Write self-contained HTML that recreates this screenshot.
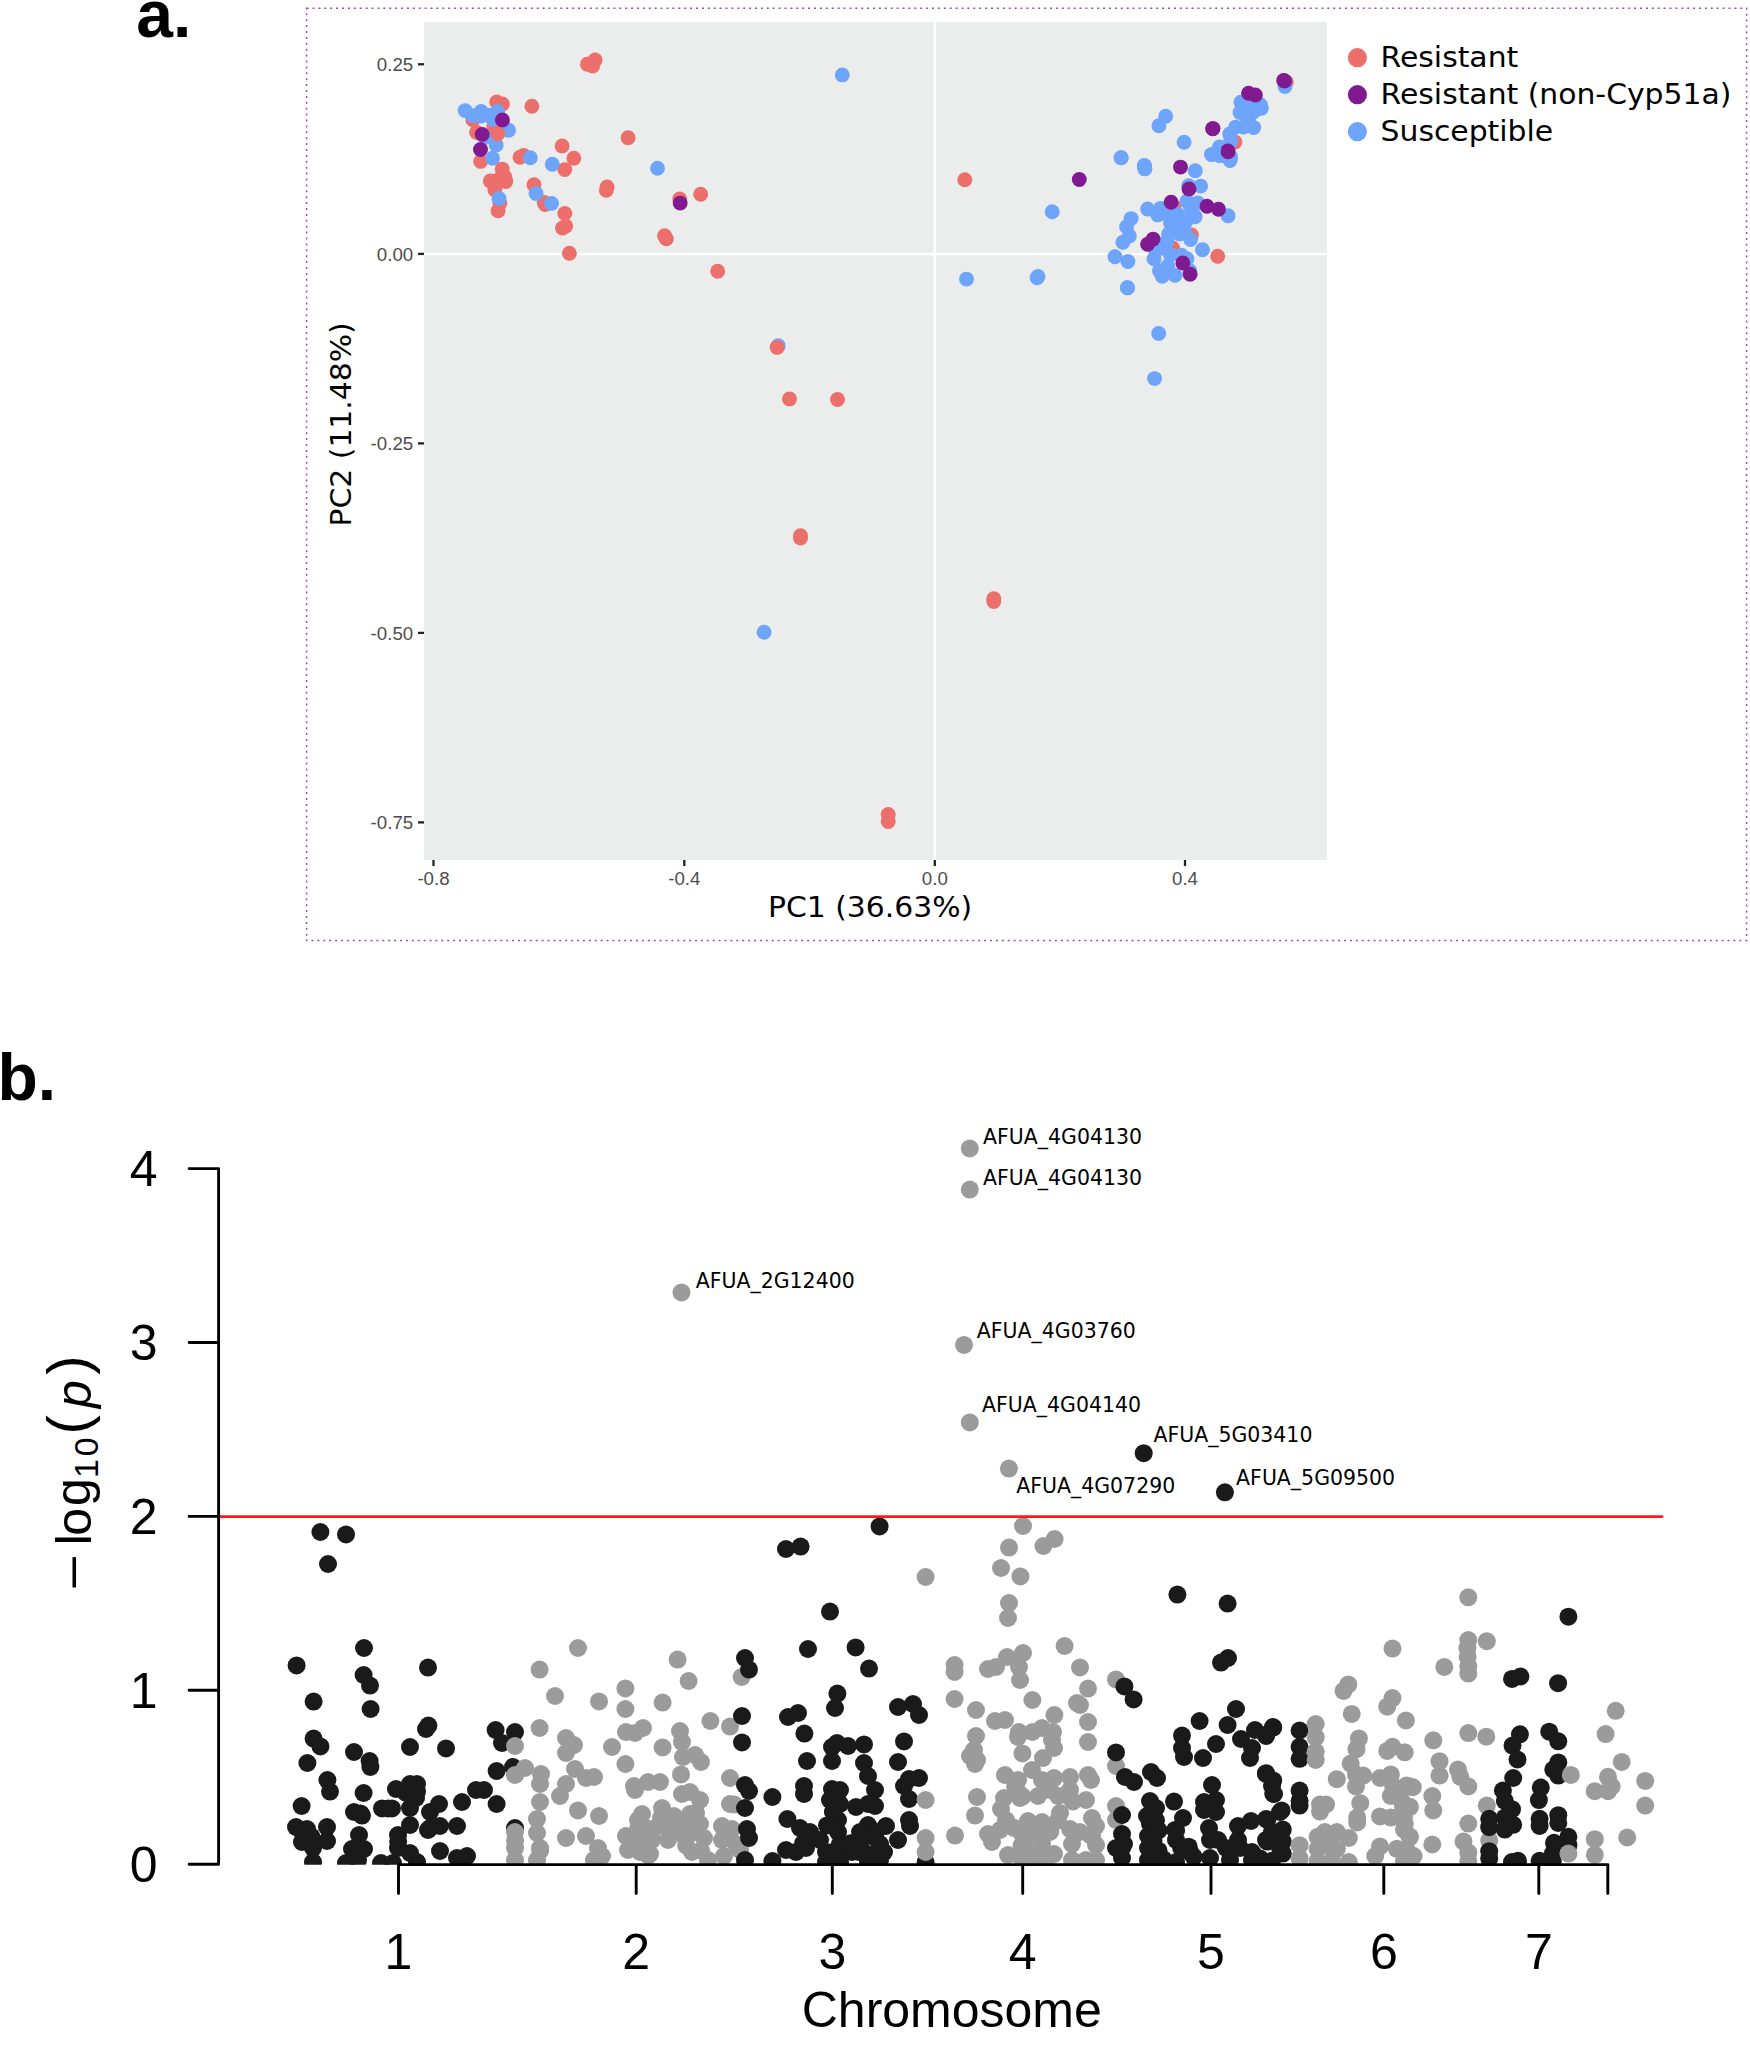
<!DOCTYPE html>
<html lang="en"><head><meta charset="utf-8"><title>Figure: PCA and Manhattan plot</title>
<style>html,body{margin:0;padding:0;background:#fff}svg{display:block}.tk{font-family:"Liberation Sans",sans-serif;font-size:18.7px;fill:#4d4d4d}.dv{font-family:"DejaVu Sans","Liberation Sans",sans-serif;fill:#000}.ar{font-family:"Liberation Sans",sans-serif;fill:#000}</style></head><body>
<svg width="1750" height="2065" viewBox="0 0 1750 2065">
<rect width="1750" height="2065" fill="#fff"/>
<g id="panel-a">
<text class="ar" x="136.2" y="37.2" font-size="66" font-weight="bold">a.</text>
<rect x="306.6" y="8.2" width="1440" height="932.4" fill="none" stroke="#a347b5" stroke-width="1.5" stroke-dasharray="2 3.9"/>
<rect x="424" y="22" width="903" height="838" fill="#ebecec"/>
<line x1="424" x2="1327" y1="254.2" y2="254.2" stroke="#fff" stroke-width="2.3"/>
<line x1="934.8" x2="934.8" y1="22" y2="860" stroke="#fff" stroke-width="2.3"/>
<g>
<circle cx="496.7" cy="101.9" r="7.45" fill="#ec6f6b"/>
<circle cx="502.4" cy="104.0" r="7.45" fill="#ec6f6b"/>
<circle cx="531.9" cy="106.2" r="7.45" fill="#ec6f6b"/>
<circle cx="472.9" cy="119.8" r="7.45" fill="#ec6f6b"/>
<circle cx="476.6" cy="132.3" r="7.45" fill="#ec6f6b"/>
<circle cx="493.9" cy="126.2" r="7.45" fill="#ec6f6b"/>
<circle cx="480.7" cy="161.4" r="7.45" fill="#ec6f6b"/>
<circle cx="520.0" cy="157.3" r="7.45" fill="#ec6f6b"/>
<circle cx="523.7" cy="155.4" r="7.45" fill="#ec6f6b"/>
<circle cx="562.1" cy="146.0" r="7.45" fill="#ec6f6b"/>
<circle cx="573.8" cy="158.2" r="7.45" fill="#ec6f6b"/>
<circle cx="564.8" cy="169.6" r="7.45" fill="#ec6f6b"/>
<circle cx="502.2" cy="169.1" r="7.45" fill="#ec6f6b"/>
<circle cx="490.3" cy="181.0" r="7.45" fill="#ec6f6b"/>
<circle cx="498.5" cy="179.7" r="7.45" fill="#ec6f6b"/>
<circle cx="505.8" cy="181.5" r="7.45" fill="#ec6f6b"/>
<circle cx="504.9" cy="176.9" r="7.45" fill="#ec6f6b"/>
<circle cx="494.9" cy="189.7" r="7.45" fill="#ec6f6b"/>
<circle cx="534.0" cy="184.7" r="7.45" fill="#ec6f6b"/>
<circle cx="544.2" cy="202.5" r="7.45" fill="#ec6f6b"/>
<circle cx="545.1" cy="204.5" r="7.45" fill="#ec6f6b"/>
<circle cx="499.9" cy="203.0" r="7.45" fill="#ec6f6b"/>
<circle cx="498.1" cy="210.7" r="7.45" fill="#ec6f6b"/>
<circle cx="564.8" cy="213.5" r="7.45" fill="#ec6f6b"/>
<circle cx="562.5" cy="228.1" r="7.45" fill="#ec6f6b"/>
<circle cx="565.7" cy="226.1" r="7.45" fill="#ec6f6b"/>
<circle cx="465.1" cy="110.6" r="7.45" fill="#6fa4fb"/>
<circle cx="472.9" cy="115.7" r="7.45" fill="#6fa4fb"/>
<circle cx="481.1" cy="111.5" r="7.45" fill="#6fa4fb"/>
<circle cx="481.1" cy="116.1" r="7.45" fill="#6fa4fb"/>
<circle cx="488.9" cy="115.2" r="7.45" fill="#6fa4fb"/>
<circle cx="497.6" cy="111.5" r="7.45" fill="#6fa4fb"/>
<circle cx="493.0" cy="119.3" r="7.45" fill="#6fa4fb"/>
<circle cx="508.6" cy="130.3" r="7.45" fill="#6fa4fb"/>
<circle cx="496.2" cy="144.9" r="7.45" fill="#6fa4fb"/>
<circle cx="486.2" cy="137.1" r="7.45" fill="#6fa4fb"/>
<circle cx="492.6" cy="158.2" r="7.45" fill="#6fa4fb"/>
<circle cx="530.3" cy="157.7" r="7.45" fill="#6fa4fb"/>
<circle cx="552.3" cy="164.3" r="7.45" fill="#6fa4fb"/>
<circle cx="499.0" cy="198.4" r="7.45" fill="#6fa4fb"/>
<circle cx="536.0" cy="193.4" r="7.45" fill="#6fa4fb"/>
<circle cx="551.5" cy="203.4" r="7.45" fill="#6fa4fb"/>
<circle cx="497.8" cy="133.7" r="7.45" fill="#ec6f6b"/>
<circle cx="502.4" cy="120.0" r="7.45" fill="#7f1a90"/>
<circle cx="482.2" cy="134.4" r="7.45" fill="#7f1a90"/>
<circle cx="480.5" cy="149.5" r="7.45" fill="#7f1a90"/>
<circle cx="587.4" cy="64.3" r="7.45" fill="#ec6f6b"/>
<circle cx="595.1" cy="60.0" r="7.45" fill="#ec6f6b"/>
<circle cx="592.6" cy="66.0" r="7.45" fill="#ec6f6b"/>
<circle cx="628.1" cy="137.7" r="7.45" fill="#ec6f6b"/>
<circle cx="607.1" cy="186.9" r="7.45" fill="#ec6f6b"/>
<circle cx="606.3" cy="190.3" r="7.45" fill="#ec6f6b"/>
<circle cx="657.5" cy="168.2" r="7.45" fill="#6fa4fb"/>
<circle cx="679.7" cy="198.9" r="7.45" fill="#ec6f6b"/>
<circle cx="680.2" cy="203.1" r="7.45" fill="#7f1a90"/>
<circle cx="700.7" cy="194.2" r="7.45" fill="#ec6f6b"/>
<circle cx="664.6" cy="235.7" r="7.45" fill="#ec6f6b"/>
<circle cx="666.3" cy="238.8" r="7.45" fill="#ec6f6b"/>
<circle cx="569.4" cy="253.2" r="7.45" fill="#ec6f6b"/>
<circle cx="717.7" cy="271.2" r="7.45" fill="#ec6f6b"/>
<circle cx="842.3" cy="74.9" r="7.45" fill="#6fa4fb"/>
<circle cx="1286.3" cy="82.1" r="7.45" fill="#ec6f6b"/>
<circle cx="1285.0" cy="86.4" r="7.45" fill="#6fa4fb"/>
<circle cx="1283.7" cy="80.4" r="7.45" fill="#7f1a90"/>
<circle cx="1284.7" cy="81.0" r="7.45" fill="#7f1a90"/>
<circle cx="1234.9" cy="142.1" r="7.45" fill="#ec6f6b"/>
<circle cx="1240.9" cy="102.3" r="7.45" fill="#6fa4fb"/>
<circle cx="1250.3" cy="103.1" r="7.45" fill="#6fa4fb"/>
<circle cx="1260.6" cy="104.9" r="7.45" fill="#6fa4fb"/>
<circle cx="1261.4" cy="108.3" r="7.45" fill="#6fa4fb"/>
<circle cx="1240.0" cy="112.6" r="7.45" fill="#6fa4fb"/>
<circle cx="1246.9" cy="110.0" r="7.45" fill="#6fa4fb"/>
<circle cx="1253.7" cy="111.7" r="7.45" fill="#6fa4fb"/>
<circle cx="1248.6" cy="118.6" r="7.45" fill="#6fa4fb"/>
<circle cx="1235.7" cy="127.1" r="7.45" fill="#6fa4fb"/>
<circle cx="1243.4" cy="127.1" r="7.45" fill="#6fa4fb"/>
<circle cx="1253.7" cy="127.6" r="7.45" fill="#6fa4fb"/>
<circle cx="1229.7" cy="134.0" r="7.45" fill="#6fa4fb"/>
<circle cx="1230.6" cy="140.9" r="7.45" fill="#6fa4fb"/>
<circle cx="1219.4" cy="146.9" r="7.45" fill="#6fa4fb"/>
<circle cx="1211.7" cy="154.6" r="7.45" fill="#6fa4fb"/>
<circle cx="1220.3" cy="155.4" r="7.45" fill="#6fa4fb"/>
<circle cx="1230.6" cy="157.1" r="7.45" fill="#6fa4fb"/>
<circle cx="1230.1" cy="160.6" r="7.45" fill="#6fa4fb"/>
<circle cx="1248.6" cy="93.3" r="7.45" fill="#7f1a90"/>
<circle cx="1255.4" cy="95.0" r="7.45" fill="#7f1a90"/>
<circle cx="1227.8" cy="151.0" r="7.45" fill="#7f1a90"/>
<circle cx="1212.8" cy="128.7" r="7.45" fill="#7f1a90"/>
<circle cx="1191.5" cy="235.0" r="7.45" fill="#ec6f6b"/>
<circle cx="1172.7" cy="248.0" r="7.45" fill="#ec6f6b"/>
<circle cx="1174.1" cy="206.7" r="7.45" fill="#ec6f6b"/>
<circle cx="1121.1" cy="157.8" r="7.45" fill="#6fa4fb"/>
<circle cx="1144.6" cy="166.0" r="7.45" fill="#6fa4fb"/>
<circle cx="1144.9" cy="168.3" r="7.45" fill="#6fa4fb"/>
<circle cx="1195.3" cy="170.8" r="7.45" fill="#6fa4fb"/>
<circle cx="1200.6" cy="186.1" r="7.45" fill="#6fa4fb"/>
<circle cx="1188.7" cy="185.7" r="7.45" fill="#6fa4fb"/>
<circle cx="1211.6" cy="154.6" r="7.45" fill="#6fa4fb"/>
<circle cx="1219.8" cy="155.5" r="7.45" fill="#6fa4fb"/>
<circle cx="1229.9" cy="159.1" r="7.45" fill="#6fa4fb"/>
<circle cx="1228.1" cy="215.8" r="7.45" fill="#6fa4fb"/>
<circle cx="1147.6" cy="209.0" r="7.45" fill="#6fa4fb"/>
<circle cx="1160.4" cy="208.5" r="7.45" fill="#6fa4fb"/>
<circle cx="1157.7" cy="214.9" r="7.45" fill="#6fa4fb"/>
<circle cx="1167.7" cy="214.0" r="7.45" fill="#6fa4fb"/>
<circle cx="1176.9" cy="214.0" r="7.45" fill="#6fa4fb"/>
<circle cx="1186.9" cy="201.2" r="7.45" fill="#6fa4fb"/>
<circle cx="1197.9" cy="203.0" r="7.45" fill="#6fa4fb"/>
<circle cx="1190.6" cy="209.4" r="7.45" fill="#6fa4fb"/>
<circle cx="1195.1" cy="216.7" r="7.45" fill="#6fa4fb"/>
<circle cx="1186.0" cy="221.3" r="7.45" fill="#6fa4fb"/>
<circle cx="1170.5" cy="223.1" r="7.45" fill="#6fa4fb"/>
<circle cx="1177.8" cy="227.7" r="7.45" fill="#6fa4fb"/>
<circle cx="1184.2" cy="230.5" r="7.45" fill="#6fa4fb"/>
<circle cx="1168.6" cy="234.1" r="7.45" fill="#6fa4fb"/>
<circle cx="1166.8" cy="241.4" r="7.45" fill="#6fa4fb"/>
<circle cx="1179.6" cy="234.1" r="7.45" fill="#6fa4fb"/>
<circle cx="1190.6" cy="239.6" r="7.45" fill="#6fa4fb"/>
<circle cx="1165.0" cy="248.7" r="7.45" fill="#6fa4fb"/>
<circle cx="1155.8" cy="250.6" r="7.45" fill="#6fa4fb"/>
<circle cx="1154.0" cy="258.8" r="7.45" fill="#6fa4fb"/>
<circle cx="1170.5" cy="255.1" r="7.45" fill="#6fa4fb"/>
<circle cx="1181.4" cy="255.1" r="7.45" fill="#6fa4fb"/>
<circle cx="1186.9" cy="258.8" r="7.45" fill="#6fa4fb"/>
<circle cx="1167.7" cy="266.1" r="7.45" fill="#6fa4fb"/>
<circle cx="1159.5" cy="270.7" r="7.45" fill="#6fa4fb"/>
<circle cx="1162.2" cy="276.2" r="7.45" fill="#6fa4fb"/>
<circle cx="1175.0" cy="275.3" r="7.45" fill="#6fa4fb"/>
<circle cx="1189.7" cy="270.7" r="7.45" fill="#6fa4fb"/>
<circle cx="1131.1" cy="218.6" r="7.45" fill="#6fa4fb"/>
<circle cx="1126.6" cy="226.8" r="7.45" fill="#6fa4fb"/>
<circle cx="1129.3" cy="235.9" r="7.45" fill="#6fa4fb"/>
<circle cx="1122.9" cy="242.3" r="7.45" fill="#6fa4fb"/>
<circle cx="1115.0" cy="256.8" r="7.45" fill="#6fa4fb"/>
<circle cx="1127.9" cy="261.5" r="7.45" fill="#6fa4fb"/>
<circle cx="1202.5" cy="249.7" r="7.45" fill="#6fa4fb"/>
<circle cx="1127.5" cy="287.8" r="7.45" fill="#6fa4fb"/>
<circle cx="1217.7" cy="256.3" r="7.45" fill="#ec6f6b"/>
<circle cx="1228.1" cy="151.8" r="7.45" fill="#7f1a90"/>
<circle cx="1180.5" cy="167.1" r="7.45" fill="#7f1a90"/>
<circle cx="1189.0" cy="188.9" r="7.45" fill="#7f1a90"/>
<circle cx="1171.1" cy="202.3" r="7.45" fill="#7f1a90"/>
<circle cx="1207.0" cy="206.2" r="7.45" fill="#7f1a90"/>
<circle cx="1218.5" cy="209.2" r="7.45" fill="#7f1a90"/>
<circle cx="1153.1" cy="239.1" r="7.45" fill="#7f1a90"/>
<circle cx="1147.6" cy="244.2" r="7.45" fill="#7f1a90"/>
<circle cx="1182.8" cy="262.9" r="7.45" fill="#7f1a90"/>
<circle cx="1190.1" cy="274.3" r="7.45" fill="#7f1a90"/>
<circle cx="964.8" cy="179.7" r="7.45" fill="#ec6f6b"/>
<circle cx="1079.3" cy="179.5" r="7.45" fill="#7f1a90"/>
<circle cx="1052.2" cy="211.7" r="7.45" fill="#6fa4fb"/>
<circle cx="966.5" cy="279.1" r="7.45" fill="#6fa4fb"/>
<circle cx="1037.1" cy="277.7" r="7.45" fill="#6fa4fb"/>
<circle cx="1038.0" cy="276.5" r="7.45" fill="#6fa4fb"/>
<circle cx="1121.1" cy="157.7" r="7.45" fill="#6fa4fb"/>
<circle cx="1144.3" cy="165.4" r="7.45" fill="#6fa4fb"/>
<circle cx="1144.8" cy="168.9" r="7.45" fill="#6fa4fb"/>
<circle cx="1165.7" cy="116.2" r="7.45" fill="#6fa4fb"/>
<circle cx="1158.9" cy="125.7" r="7.45" fill="#6fa4fb"/>
<circle cx="1212.9" cy="128.6" r="7.45" fill="#7f1a90"/>
<circle cx="1184.1" cy="142.3" r="7.45" fill="#6fa4fb"/>
<circle cx="1127.5" cy="287.7" r="7.45" fill="#6fa4fb"/>
<circle cx="778.2" cy="345.7" r="7.45" fill="#6fa4fb"/>
<circle cx="777.1" cy="347.4" r="7.45" fill="#ec6f6b"/>
<circle cx="789.5" cy="398.9" r="7.45" fill="#ec6f6b"/>
<circle cx="837.5" cy="399.5" r="7.45" fill="#ec6f6b"/>
<circle cx="800.5" cy="535.7" r="7.45" fill="#ec6f6b"/>
<circle cx="800.5" cy="538.1" r="7.45" fill="#ec6f6b"/>
<circle cx="993.8" cy="598.7" r="7.45" fill="#ec6f6b"/>
<circle cx="993.8" cy="601.5" r="7.45" fill="#ec6f6b"/>
<circle cx="764.1" cy="632.3" r="7.45" fill="#6fa4fb"/>
<circle cx="888.2" cy="814.4" r="7.45" fill="#ec6f6b"/>
<circle cx="888.2" cy="821.6" r="7.45" fill="#ec6f6b"/>
<circle cx="1158.7" cy="333.4" r="7.45" fill="#6fa4fb"/>
<circle cx="1154.6" cy="378.6" r="7.45" fill="#6fa4fb"/>
</g>
<line x1="418" x2="424" y1="64.3" y2="64.3" stroke="#222" stroke-width="2.3"/>
<text class="tk" x="413.2" y="71.1" text-anchor="end">0.25</text>
<line x1="418" x2="424" y1="253.9" y2="253.9" stroke="#222" stroke-width="2.3"/>
<text class="tk" x="413.2" y="260.7" text-anchor="end">0.00</text>
<line x1="418" x2="424" y1="443.4" y2="443.4" stroke="#222" stroke-width="2.3"/>
<text class="tk" x="413.2" y="450.2" text-anchor="end">-0.25</text>
<line x1="418" x2="424" y1="632.9" y2="632.9" stroke="#222" stroke-width="2.3"/>
<text class="tk" x="413.2" y="639.7" text-anchor="end">-0.50</text>
<line x1="418" x2="424" y1="822.4" y2="822.4" stroke="#222" stroke-width="2.3"/>
<text class="tk" x="413.2" y="829.2" text-anchor="end">-0.75</text>
<line x1="433.5" x2="433.5" y1="860" y2="866" stroke="#222" stroke-width="2.3"/>
<text class="tk" x="433.5" y="884.9" text-anchor="middle">-0.8</text>
<line x1="684.3" x2="684.3" y1="860" y2="866" stroke="#222" stroke-width="2.3"/>
<text class="tk" x="684.3" y="884.9" text-anchor="middle">-0.4</text>
<line x1="934.8" x2="934.8" y1="860" y2="866" stroke="#222" stroke-width="2.3"/>
<text class="tk" x="934.8" y="884.9" text-anchor="middle">0.0</text>
<line x1="1185.0" x2="1185.0" y1="860" y2="866" stroke="#222" stroke-width="2.3"/>
<text class="tk" x="1185.0" y="884.9" text-anchor="middle">0.4</text>
<text class="dv" transform="translate(870,917.3) scale(1.054,1)" font-size="28.3" text-anchor="middle">PC1 (36.63%)</text>
<text class="dv" transform="translate(350.6,424.4) rotate(-90) scale(1.054,1)" font-size="28.3" text-anchor="middle">PC2 (11.48%)</text>
<circle cx="1357.4" cy="57.7" r="9.6" fill="#ec6f6b"/>
<text class="dv" transform="translate(1380.6,67.3) scale(1.054,1)" font-size="28.3">Resistant</text>
<circle cx="1357.4" cy="94.7" r="9.6" fill="#7f1a90"/>
<text class="dv" transform="translate(1380.6,104.2) scale(1.054,1)" font-size="28.3">Resistant (non-Cyp51a)</text>
<circle cx="1357.4" cy="131.7" r="9.6" fill="#6fa4fb"/>
<text class="dv" transform="translate(1380.6,141.2) scale(1.054,1)" font-size="28.3">Susceptible</text>
</g>
<g id="panel-b">
<text class="ar" x="-2.5" y="1100" font-size="66" font-weight="bold">b.</text>
<defs><clipPath id="cb"><rect x="218" y="1000" width="1500" height="864.8"/></clipPath></defs>
<g clip-path="url(#cb)">
<circle cx="320.4" cy="1532.0" r="9.0" fill="#1a1a1a"/>
<circle cx="346.0" cy="1534.4" r="9.0" fill="#1a1a1a"/>
<circle cx="328.0" cy="1564.0" r="9.0" fill="#1a1a1a"/>
<circle cx="364.0" cy="1648.0" r="9.0" fill="#1a1a1a"/>
<circle cx="296.6" cy="1665.4" r="9.0" fill="#1a1a1a"/>
<circle cx="428.0" cy="1667.6" r="9.0" fill="#1a1a1a"/>
<circle cx="363.6" cy="1675.0" r="9.0" fill="#1a1a1a"/>
<circle cx="370.0" cy="1685.6" r="9.0" fill="#1a1a1a"/>
<circle cx="313.6" cy="1701.6" r="9.0" fill="#1a1a1a"/>
<circle cx="370.6" cy="1709.0" r="9.0" fill="#1a1a1a"/>
<circle cx="426.0" cy="1729.0" r="9.0" fill="#1a1a1a"/>
<circle cx="428.4" cy="1725.6" r="9.0" fill="#1a1a1a"/>
<circle cx="313.6" cy="1738.6" r="9.0" fill="#1a1a1a"/>
<circle cx="320.4" cy="1746.4" r="9.0" fill="#1a1a1a"/>
<circle cx="354.0" cy="1752.0" r="9.0" fill="#1a1a1a"/>
<circle cx="410.0" cy="1747.0" r="9.0" fill="#1a1a1a"/>
<circle cx="446.0" cy="1748.4" r="9.0" fill="#1a1a1a"/>
<circle cx="307.4" cy="1763.0" r="9.0" fill="#1a1a1a"/>
<circle cx="369.6" cy="1761.0" r="9.0" fill="#1a1a1a"/>
<circle cx="370.4" cy="1767.0" r="9.0" fill="#1a1a1a"/>
<circle cx="495.6" cy="1730.0" r="9.0" fill="#1a1a1a"/>
<circle cx="515.0" cy="1732.0" r="9.0" fill="#1a1a1a"/>
<circle cx="502.0" cy="1743.0" r="9.0" fill="#1a1a1a"/>
<circle cx="496.6" cy="1771.0" r="9.0" fill="#1a1a1a"/>
<circle cx="513.0" cy="1767.0" r="9.0" fill="#1a1a1a"/>
<circle cx="327.4" cy="1780.0" r="9.0" fill="#1a1a1a"/>
<circle cx="330.0" cy="1791.6" r="9.0" fill="#1a1a1a"/>
<circle cx="363.6" cy="1793.0" r="9.0" fill="#1a1a1a"/>
<circle cx="396.0" cy="1789.0" r="9.0" fill="#1a1a1a"/>
<circle cx="410.0" cy="1784.0" r="9.0" fill="#1a1a1a"/>
<circle cx="417.0" cy="1784.0" r="9.0" fill="#1a1a1a"/>
<circle cx="416.0" cy="1798.0" r="9.0" fill="#1a1a1a"/>
<circle cx="410.0" cy="1808.0" r="9.0" fill="#1a1a1a"/>
<circle cx="382.0" cy="1808.4" r="9.0" fill="#1a1a1a"/>
<circle cx="392.0" cy="1808.4" r="9.0" fill="#1a1a1a"/>
<circle cx="354.0" cy="1812.0" r="9.0" fill="#1a1a1a"/>
<circle cx="362.0" cy="1815.6" r="9.0" fill="#1a1a1a"/>
<circle cx="439.0" cy="1804.0" r="9.0" fill="#1a1a1a"/>
<circle cx="430.0" cy="1812.0" r="9.0" fill="#1a1a1a"/>
<circle cx="462.0" cy="1802.0" r="9.0" fill="#1a1a1a"/>
<circle cx="476.0" cy="1790.0" r="9.0" fill="#1a1a1a"/>
<circle cx="484.0" cy="1790.0" r="9.0" fill="#1a1a1a"/>
<circle cx="496.6" cy="1804.0" r="9.0" fill="#1a1a1a"/>
<circle cx="301.6" cy="1806.0" r="9.0" fill="#1a1a1a"/>
<circle cx="296.0" cy="1827.0" r="9.0" fill="#1a1a1a"/>
<circle cx="307.0" cy="1829.0" r="9.0" fill="#1a1a1a"/>
<circle cx="327.0" cy="1827.0" r="9.0" fill="#1a1a1a"/>
<circle cx="302.0" cy="1842.0" r="9.0" fill="#1a1a1a"/>
<circle cx="327.0" cy="1841.0" r="9.0" fill="#1a1a1a"/>
<circle cx="313.0" cy="1848.0" r="9.0" fill="#1a1a1a"/>
<circle cx="313.0" cy="1862.0" r="9.0" fill="#1a1a1a"/>
<circle cx="359.0" cy="1835.0" r="9.0" fill="#1a1a1a"/>
<circle cx="352.0" cy="1849.0" r="9.0" fill="#1a1a1a"/>
<circle cx="364.0" cy="1849.0" r="9.0" fill="#1a1a1a"/>
<circle cx="346.0" cy="1863.0" r="9.0" fill="#1a1a1a"/>
<circle cx="358.0" cy="1860.0" r="9.0" fill="#1a1a1a"/>
<circle cx="398.0" cy="1835.0" r="9.0" fill="#1a1a1a"/>
<circle cx="398.0" cy="1848.0" r="9.0" fill="#1a1a1a"/>
<circle cx="410.0" cy="1825.0" r="9.0" fill="#1a1a1a"/>
<circle cx="410.0" cy="1853.0" r="9.0" fill="#1a1a1a"/>
<circle cx="417.0" cy="1862.0" r="9.0" fill="#1a1a1a"/>
<circle cx="381.0" cy="1863.0" r="9.0" fill="#1a1a1a"/>
<circle cx="393.0" cy="1863.0" r="9.0" fill="#1a1a1a"/>
<circle cx="430.0" cy="1828.0" r="9.0" fill="#1a1a1a"/>
<circle cx="440.0" cy="1826.0" r="9.0" fill="#1a1a1a"/>
<circle cx="457.0" cy="1826.0" r="9.0" fill="#1a1a1a"/>
<circle cx="428.0" cy="1830.0" r="9.0" fill="#1a1a1a"/>
<circle cx="440.0" cy="1851.0" r="9.0" fill="#1a1a1a"/>
<circle cx="457.0" cy="1858.0" r="9.0" fill="#1a1a1a"/>
<circle cx="467.0" cy="1856.0" r="9.0" fill="#1a1a1a"/>
<circle cx="515.0" cy="1828.0" r="9.0" fill="#1a1a1a"/>
<circle cx="405.7" cy="1792.7" r="9.0" fill="#1a1a1a"/>
<circle cx="417.0" cy="1791.4" r="9.0" fill="#1a1a1a"/>
<circle cx="398.2" cy="1841.7" r="9.0" fill="#1a1a1a"/>
<circle cx="388.1" cy="1808.4" r="9.0" fill="#1a1a1a"/>
<circle cx="302.6" cy="1832.9" r="9.0" fill="#1a1a1a"/>
<circle cx="311.4" cy="1836.7" r="9.0" fill="#1a1a1a"/>
<circle cx="360.5" cy="1813.4" r="9.0" fill="#1a1a1a"/>
<circle cx="355.4" cy="1848.0" r="9.0" fill="#1a1a1a"/>
<circle cx="578.0" cy="1648.0" r="9.0" fill="#9b9b9b"/>
<circle cx="539.6" cy="1669.6" r="9.0" fill="#9b9b9b"/>
<circle cx="555.0" cy="1696.0" r="9.0" fill="#9b9b9b"/>
<circle cx="599.0" cy="1701.4" r="9.0" fill="#9b9b9b"/>
<circle cx="539.6" cy="1728.0" r="9.0" fill="#9b9b9b"/>
<circle cx="566.0" cy="1738.0" r="9.0" fill="#9b9b9b"/>
<circle cx="574.0" cy="1745.0" r="9.0" fill="#9b9b9b"/>
<circle cx="566.0" cy="1753.0" r="9.0" fill="#9b9b9b"/>
<circle cx="612.0" cy="1747.0" r="9.0" fill="#9b9b9b"/>
<circle cx="515.0" cy="1746.0" r="9.0" fill="#9b9b9b"/>
<circle cx="515.0" cy="1775.0" r="9.0" fill="#9b9b9b"/>
<circle cx="525.0" cy="1768.0" r="9.0" fill="#9b9b9b"/>
<circle cx="541.0" cy="1774.0" r="9.0" fill="#9b9b9b"/>
<circle cx="540.0" cy="1784.0" r="9.0" fill="#9b9b9b"/>
<circle cx="575.0" cy="1769.0" r="9.0" fill="#9b9b9b"/>
<circle cx="566.0" cy="1784.0" r="9.0" fill="#9b9b9b"/>
<circle cx="586.0" cy="1778.0" r="9.0" fill="#9b9b9b"/>
<circle cx="594.0" cy="1777.0" r="9.0" fill="#9b9b9b"/>
<circle cx="560.0" cy="1796.0" r="9.0" fill="#9b9b9b"/>
<circle cx="540.0" cy="1802.0" r="9.0" fill="#9b9b9b"/>
<circle cx="578.0" cy="1810.4" r="9.0" fill="#9b9b9b"/>
<circle cx="599.0" cy="1816.0" r="9.0" fill="#9b9b9b"/>
<circle cx="537.0" cy="1819.0" r="9.0" fill="#9b9b9b"/>
<circle cx="515.0" cy="1832.0" r="9.0" fill="#9b9b9b"/>
<circle cx="537.0" cy="1833.0" r="9.0" fill="#9b9b9b"/>
<circle cx="566.0" cy="1838.0" r="9.0" fill="#9b9b9b"/>
<circle cx="586.0" cy="1836.0" r="9.0" fill="#9b9b9b"/>
<circle cx="598.0" cy="1848.0" r="9.0" fill="#9b9b9b"/>
<circle cx="515.0" cy="1848.0" r="9.0" fill="#9b9b9b"/>
<circle cx="540.0" cy="1848.0" r="9.0" fill="#9b9b9b"/>
<circle cx="515.0" cy="1860.0" r="9.0" fill="#9b9b9b"/>
<circle cx="537.0" cy="1860.0" r="9.0" fill="#9b9b9b"/>
<circle cx="594.0" cy="1860.0" r="9.0" fill="#9b9b9b"/>
<circle cx="602.0" cy="1856.0" r="9.0" fill="#9b9b9b"/>
<circle cx="677.6" cy="1659.6" r="9.0" fill="#9b9b9b"/>
<circle cx="688.6" cy="1681.0" r="9.0" fill="#9b9b9b"/>
<circle cx="741.6" cy="1677.0" r="9.0" fill="#9b9b9b"/>
<circle cx="625.4" cy="1688.4" r="9.0" fill="#9b9b9b"/>
<circle cx="625.4" cy="1709.0" r="9.0" fill="#9b9b9b"/>
<circle cx="662.6" cy="1702.6" r="9.0" fill="#9b9b9b"/>
<circle cx="710.4" cy="1721.0" r="9.0" fill="#9b9b9b"/>
<circle cx="730.0" cy="1726.6" r="9.0" fill="#9b9b9b"/>
<circle cx="626.0" cy="1732.0" r="9.0" fill="#9b9b9b"/>
<circle cx="635.0" cy="1733.0" r="9.0" fill="#9b9b9b"/>
<circle cx="643.0" cy="1728.0" r="9.0" fill="#9b9b9b"/>
<circle cx="680.0" cy="1731.0" r="9.0" fill="#9b9b9b"/>
<circle cx="682.0" cy="1742.0" r="9.0" fill="#9b9b9b"/>
<circle cx="662.6" cy="1747.4" r="9.0" fill="#9b9b9b"/>
<circle cx="625.4" cy="1764.0" r="9.0" fill="#9b9b9b"/>
<circle cx="683.0" cy="1757.0" r="9.0" fill="#9b9b9b"/>
<circle cx="695.0" cy="1755.0" r="9.0" fill="#9b9b9b"/>
<circle cx="701.0" cy="1762.0" r="9.0" fill="#9b9b9b"/>
<circle cx="681.0" cy="1774.4" r="9.0" fill="#9b9b9b"/>
<circle cx="730.0" cy="1778.0" r="9.0" fill="#9b9b9b"/>
<circle cx="634.0" cy="1786.0" r="9.0" fill="#9b9b9b"/>
<circle cx="648.0" cy="1782.0" r="9.0" fill="#9b9b9b"/>
<circle cx="660.0" cy="1782.0" r="9.0" fill="#9b9b9b"/>
<circle cx="635.0" cy="1790.0" r="9.0" fill="#9b9b9b"/>
<circle cx="682.0" cy="1794.0" r="9.0" fill="#9b9b9b"/>
<circle cx="690.0" cy="1792.0" r="9.0" fill="#9b9b9b"/>
<circle cx="700.0" cy="1800.0" r="9.0" fill="#9b9b9b"/>
<circle cx="730.0" cy="1804.0" r="9.0" fill="#9b9b9b"/>
<circle cx="662.0" cy="1808.0" r="9.0" fill="#9b9b9b"/>
<circle cx="642.0" cy="1814.0" r="9.0" fill="#9b9b9b"/>
<circle cx="638.0" cy="1820.0" r="9.0" fill="#9b9b9b"/>
<circle cx="674.0" cy="1816.0" r="9.0" fill="#9b9b9b"/>
<circle cx="690.0" cy="1814.0" r="9.0" fill="#9b9b9b"/>
<circle cx="700.0" cy="1824.0" r="9.0" fill="#9b9b9b"/>
<circle cx="658.0" cy="1826.0" r="9.0" fill="#9b9b9b"/>
<circle cx="646.0" cy="1828.0" r="9.0" fill="#9b9b9b"/>
<circle cx="626.0" cy="1836.0" r="9.0" fill="#9b9b9b"/>
<circle cx="636.0" cy="1840.0" r="9.0" fill="#9b9b9b"/>
<circle cx="652.0" cy="1840.0" r="9.0" fill="#9b9b9b"/>
<circle cx="668.0" cy="1840.0" r="9.0" fill="#9b9b9b"/>
<circle cx="684.0" cy="1836.0" r="9.0" fill="#9b9b9b"/>
<circle cx="704.0" cy="1838.0" r="9.0" fill="#9b9b9b"/>
<circle cx="722.0" cy="1826.0" r="9.0" fill="#9b9b9b"/>
<circle cx="732.0" cy="1829.0" r="9.0" fill="#9b9b9b"/>
<circle cx="722.0" cy="1840.0" r="9.0" fill="#9b9b9b"/>
<circle cx="736.0" cy="1844.0" r="9.0" fill="#9b9b9b"/>
<circle cx="628.0" cy="1850.0" r="9.0" fill="#9b9b9b"/>
<circle cx="640.0" cy="1852.0" r="9.0" fill="#9b9b9b"/>
<circle cx="650.0" cy="1854.0" r="9.0" fill="#9b9b9b"/>
<circle cx="692.0" cy="1852.0" r="9.0" fill="#9b9b9b"/>
<circle cx="708.0" cy="1860.0" r="9.0" fill="#9b9b9b"/>
<circle cx="724.0" cy="1856.0" r="9.0" fill="#9b9b9b"/>
<circle cx="740.0" cy="1850.0" r="9.0" fill="#9b9b9b"/>
<circle cx="638.3" cy="1827.9" r="9.0" fill="#9b9b9b"/>
<circle cx="650.9" cy="1835.4" r="9.0" fill="#9b9b9b"/>
<circle cx="660.9" cy="1817.8" r="9.0" fill="#9b9b9b"/>
<circle cx="669.7" cy="1830.4" r="9.0" fill="#9b9b9b"/>
<circle cx="682.3" cy="1822.9" r="9.0" fill="#9b9b9b"/>
<circle cx="691.1" cy="1832.9" r="9.0" fill="#9b9b9b"/>
<circle cx="686.1" cy="1845.5" r="9.0" fill="#9b9b9b"/>
<circle cx="701.1" cy="1850.5" r="9.0" fill="#9b9b9b"/>
<circle cx="638.3" cy="1848.0" r="9.0" fill="#9b9b9b"/>
<circle cx="648.3" cy="1855.5" r="9.0" fill="#9b9b9b"/>
<circle cx="696.1" cy="1812.8" r="9.0" fill="#9b9b9b"/>
<circle cx="540.2" cy="1850.5" r="9.0" fill="#9b9b9b"/>
<circle cx="515.1" cy="1840.5" r="9.0" fill="#9b9b9b"/>
<circle cx="734.1" cy="1804.6" r="9.0" fill="#9b9b9b"/>
<circle cx="681.5" cy="1292.4" r="9.0" fill="#9b9b9b"/>
<circle cx="879.6" cy="1526.4" r="9.0" fill="#1a1a1a"/>
<circle cx="786.0" cy="1549.0" r="9.0" fill="#1a1a1a"/>
<circle cx="800.6" cy="1546.6" r="9.0" fill="#1a1a1a"/>
<circle cx="830.0" cy="1611.6" r="9.0" fill="#1a1a1a"/>
<circle cx="808.0" cy="1649.0" r="9.0" fill="#1a1a1a"/>
<circle cx="855.6" cy="1647.4" r="9.0" fill="#1a1a1a"/>
<circle cx="869.0" cy="1668.6" r="9.0" fill="#1a1a1a"/>
<circle cx="745.0" cy="1658.0" r="9.0" fill="#1a1a1a"/>
<circle cx="749.0" cy="1669.6" r="9.0" fill="#1a1a1a"/>
<circle cx="837.4" cy="1693.6" r="9.0" fill="#1a1a1a"/>
<circle cx="835.0" cy="1708.0" r="9.0" fill="#1a1a1a"/>
<circle cx="898.0" cy="1707.0" r="9.0" fill="#1a1a1a"/>
<circle cx="913.0" cy="1704.0" r="9.0" fill="#1a1a1a"/>
<circle cx="919.0" cy="1715.0" r="9.0" fill="#1a1a1a"/>
<circle cx="742.0" cy="1716.0" r="9.0" fill="#1a1a1a"/>
<circle cx="788.0" cy="1717.0" r="9.0" fill="#1a1a1a"/>
<circle cx="798.0" cy="1713.0" r="9.0" fill="#1a1a1a"/>
<circle cx="804.4" cy="1733.6" r="9.0" fill="#1a1a1a"/>
<circle cx="742.0" cy="1742.4" r="9.0" fill="#1a1a1a"/>
<circle cx="904.0" cy="1741.4" r="9.0" fill="#1a1a1a"/>
<circle cx="832.0" cy="1747.0" r="9.0" fill="#1a1a1a"/>
<circle cx="837.0" cy="1743.0" r="9.0" fill="#1a1a1a"/>
<circle cx="848.0" cy="1746.0" r="9.0" fill="#1a1a1a"/>
<circle cx="864.0" cy="1744.4" r="9.0" fill="#1a1a1a"/>
<circle cx="807.0" cy="1761.0" r="9.0" fill="#1a1a1a"/>
<circle cx="832.0" cy="1761.0" r="9.0" fill="#1a1a1a"/>
<circle cx="864.0" cy="1763.0" r="9.0" fill="#1a1a1a"/>
<circle cx="898.0" cy="1762.0" r="9.0" fill="#1a1a1a"/>
<circle cx="868.0" cy="1776.0" r="9.0" fill="#1a1a1a"/>
<circle cx="875.0" cy="1790.0" r="9.0" fill="#1a1a1a"/>
<circle cx="909.0" cy="1779.0" r="9.0" fill="#1a1a1a"/>
<circle cx="919.0" cy="1778.0" r="9.0" fill="#1a1a1a"/>
<circle cx="904.0" cy="1786.0" r="9.0" fill="#1a1a1a"/>
<circle cx="909.0" cy="1799.0" r="9.0" fill="#1a1a1a"/>
<circle cx="745.0" cy="1785.0" r="9.0" fill="#1a1a1a"/>
<circle cx="749.0" cy="1791.0" r="9.0" fill="#1a1a1a"/>
<circle cx="772.4" cy="1797.0" r="9.0" fill="#1a1a1a"/>
<circle cx="804.0" cy="1786.0" r="9.0" fill="#1a1a1a"/>
<circle cx="804.0" cy="1794.0" r="9.0" fill="#1a1a1a"/>
<circle cx="832.0" cy="1789.0" r="9.0" fill="#1a1a1a"/>
<circle cx="840.0" cy="1790.0" r="9.0" fill="#1a1a1a"/>
<circle cx="830.0" cy="1800.0" r="9.0" fill="#1a1a1a"/>
<circle cx="840.0" cy="1804.0" r="9.0" fill="#1a1a1a"/>
<circle cx="745.0" cy="1808.0" r="9.0" fill="#1a1a1a"/>
<circle cx="856.0" cy="1807.0" r="9.0" fill="#1a1a1a"/>
<circle cx="868.0" cy="1804.0" r="9.0" fill="#1a1a1a"/>
<circle cx="875.0" cy="1806.0" r="9.0" fill="#1a1a1a"/>
<circle cx="787.4" cy="1819.0" r="9.0" fill="#1a1a1a"/>
<circle cx="909.0" cy="1820.0" r="9.0" fill="#1a1a1a"/>
<circle cx="910.0" cy="1826.0" r="9.0" fill="#1a1a1a"/>
<circle cx="747.0" cy="1829.0" r="9.0" fill="#1a1a1a"/>
<circle cx="749.0" cy="1838.0" r="9.0" fill="#1a1a1a"/>
<circle cx="800.0" cy="1828.0" r="9.0" fill="#1a1a1a"/>
<circle cx="810.0" cy="1832.0" r="9.0" fill="#1a1a1a"/>
<circle cx="838.0" cy="1820.0" r="9.0" fill="#1a1a1a"/>
<circle cx="838.0" cy="1832.0" r="9.0" fill="#1a1a1a"/>
<circle cx="868.0" cy="1825.0" r="9.0" fill="#1a1a1a"/>
<circle cx="860.0" cy="1832.0" r="9.0" fill="#1a1a1a"/>
<circle cx="876.0" cy="1832.0" r="9.0" fill="#1a1a1a"/>
<circle cx="886.0" cy="1826.0" r="9.0" fill="#1a1a1a"/>
<circle cx="898.0" cy="1840.0" r="9.0" fill="#1a1a1a"/>
<circle cx="820.0" cy="1840.0" r="9.0" fill="#1a1a1a"/>
<circle cx="840.0" cy="1844.0" r="9.0" fill="#1a1a1a"/>
<circle cx="860.0" cy="1844.0" r="9.0" fill="#1a1a1a"/>
<circle cx="880.0" cy="1844.0" r="9.0" fill="#1a1a1a"/>
<circle cx="786.0" cy="1850.0" r="9.0" fill="#1a1a1a"/>
<circle cx="796.0" cy="1852.0" r="9.0" fill="#1a1a1a"/>
<circle cx="806.0" cy="1848.0" r="9.0" fill="#1a1a1a"/>
<circle cx="826.0" cy="1852.0" r="9.0" fill="#1a1a1a"/>
<circle cx="838.0" cy="1856.0" r="9.0" fill="#1a1a1a"/>
<circle cx="852.0" cy="1852.0" r="9.0" fill="#1a1a1a"/>
<circle cx="868.0" cy="1854.0" r="9.0" fill="#1a1a1a"/>
<circle cx="884.0" cy="1852.0" r="9.0" fill="#1a1a1a"/>
<circle cx="745.0" cy="1860.0" r="9.0" fill="#1a1a1a"/>
<circle cx="772.4" cy="1861.0" r="9.0" fill="#1a1a1a"/>
<circle cx="826.0" cy="1862.0" r="9.0" fill="#1a1a1a"/>
<circle cx="840.0" cy="1862.0" r="9.0" fill="#1a1a1a"/>
<circle cx="868.0" cy="1862.0" r="9.0" fill="#1a1a1a"/>
<circle cx="880.0" cy="1860.0" r="9.0" fill="#1a1a1a"/>
<circle cx="925.6" cy="1862.4" r="9.0" fill="#1a1a1a"/>
<circle cx="832.9" cy="1812.0" r="9.0" fill="#1a1a1a"/>
<circle cx="827.0" cy="1825.4" r="9.0" fill="#1a1a1a"/>
<circle cx="812.1" cy="1837.3" r="9.0" fill="#1a1a1a"/>
<circle cx="850.7" cy="1843.2" r="9.0" fill="#1a1a1a"/>
<circle cx="859.7" cy="1852.1" r="9.0" fill="#1a1a1a"/>
<circle cx="874.5" cy="1837.3" r="9.0" fill="#1a1a1a"/>
<circle cx="832.9" cy="1852.1" r="9.0" fill="#1a1a1a"/>
<circle cx="803.2" cy="1843.2" r="9.0" fill="#1a1a1a"/>
<circle cx="925.6" cy="1577.0" r="9.0" fill="#9b9b9b"/>
<circle cx="925.6" cy="1800.0" r="9.0" fill="#9b9b9b"/>
<circle cx="925.6" cy="1838.0" r="9.0" fill="#9b9b9b"/>
<circle cx="925.6" cy="1852.0" r="9.0" fill="#9b9b9b"/>
<circle cx="1023.0" cy="1526.0" r="9.0" fill="#9b9b9b"/>
<circle cx="1009.0" cy="1547.6" r="9.0" fill="#9b9b9b"/>
<circle cx="1043.4" cy="1546.0" r="9.0" fill="#9b9b9b"/>
<circle cx="1054.6" cy="1539.0" r="9.0" fill="#9b9b9b"/>
<circle cx="1001.0" cy="1568.0" r="9.0" fill="#9b9b9b"/>
<circle cx="1020.4" cy="1576.4" r="9.0" fill="#9b9b9b"/>
<circle cx="1009.0" cy="1603.0" r="9.0" fill="#9b9b9b"/>
<circle cx="1008.0" cy="1618.0" r="9.0" fill="#9b9b9b"/>
<circle cx="1064.6" cy="1646.0" r="9.0" fill="#9b9b9b"/>
<circle cx="954.6" cy="1665.0" r="9.0" fill="#9b9b9b"/>
<circle cx="954.6" cy="1672.0" r="9.0" fill="#9b9b9b"/>
<circle cx="988.0" cy="1669.0" r="9.0" fill="#9b9b9b"/>
<circle cx="996.0" cy="1667.0" r="9.0" fill="#9b9b9b"/>
<circle cx="1007.0" cy="1657.0" r="9.0" fill="#9b9b9b"/>
<circle cx="1023.0" cy="1653.0" r="9.0" fill="#9b9b9b"/>
<circle cx="1019.0" cy="1667.0" r="9.0" fill="#9b9b9b"/>
<circle cx="1020.0" cy="1680.0" r="9.0" fill="#9b9b9b"/>
<circle cx="1080.0" cy="1667.4" r="9.0" fill="#9b9b9b"/>
<circle cx="1116.0" cy="1679.4" r="9.0" fill="#9b9b9b"/>
<circle cx="1088.0" cy="1688.6" r="9.0" fill="#9b9b9b"/>
<circle cx="954.6" cy="1699.0" r="9.0" fill="#9b9b9b"/>
<circle cx="1032.4" cy="1700.0" r="9.0" fill="#9b9b9b"/>
<circle cx="1077.0" cy="1703.0" r="9.0" fill="#9b9b9b"/>
<circle cx="1080.0" cy="1705.0" r="9.0" fill="#9b9b9b"/>
<circle cx="976.0" cy="1710.0" r="9.0" fill="#9b9b9b"/>
<circle cx="1054.4" cy="1715.0" r="9.0" fill="#9b9b9b"/>
<circle cx="995.0" cy="1721.0" r="9.0" fill="#9b9b9b"/>
<circle cx="1005.0" cy="1720.0" r="9.0" fill="#9b9b9b"/>
<circle cx="1088.0" cy="1722.0" r="9.0" fill="#9b9b9b"/>
<circle cx="976.0" cy="1736.0" r="9.0" fill="#9b9b9b"/>
<circle cx="1019.0" cy="1732.0" r="9.0" fill="#9b9b9b"/>
<circle cx="1018.0" cy="1737.0" r="9.0" fill="#9b9b9b"/>
<circle cx="1032.4" cy="1732.0" r="9.0" fill="#9b9b9b"/>
<circle cx="1042.0" cy="1728.0" r="9.0" fill="#9b9b9b"/>
<circle cx="1053.0" cy="1732.0" r="9.0" fill="#9b9b9b"/>
<circle cx="1052.0" cy="1740.0" r="9.0" fill="#9b9b9b"/>
<circle cx="1054.0" cy="1748.0" r="9.0" fill="#9b9b9b"/>
<circle cx="1088.0" cy="1742.0" r="9.0" fill="#9b9b9b"/>
<circle cx="974.0" cy="1750.0" r="9.0" fill="#9b9b9b"/>
<circle cx="970.0" cy="1756.0" r="9.0" fill="#9b9b9b"/>
<circle cx="977.0" cy="1760.0" r="9.0" fill="#9b9b9b"/>
<circle cx="975.0" cy="1764.0" r="9.0" fill="#9b9b9b"/>
<circle cx="1022.4" cy="1753.4" r="9.0" fill="#9b9b9b"/>
<circle cx="1043.0" cy="1758.0" r="9.0" fill="#9b9b9b"/>
<circle cx="1116.0" cy="1766.0" r="9.0" fill="#9b9b9b"/>
<circle cx="1005.0" cy="1775.0" r="9.0" fill="#9b9b9b"/>
<circle cx="1018.0" cy="1780.0" r="9.0" fill="#9b9b9b"/>
<circle cx="1032.0" cy="1770.0" r="9.0" fill="#9b9b9b"/>
<circle cx="1042.0" cy="1780.0" r="9.0" fill="#9b9b9b"/>
<circle cx="1054.0" cy="1778.0" r="9.0" fill="#9b9b9b"/>
<circle cx="1070.0" cy="1777.0" r="9.0" fill="#9b9b9b"/>
<circle cx="1088.0" cy="1775.0" r="9.0" fill="#9b9b9b"/>
<circle cx="1091.0" cy="1780.0" r="9.0" fill="#9b9b9b"/>
<circle cx="977.0" cy="1797.0" r="9.0" fill="#9b9b9b"/>
<circle cx="1004.0" cy="1798.0" r="9.0" fill="#9b9b9b"/>
<circle cx="1018.0" cy="1792.0" r="9.0" fill="#9b9b9b"/>
<circle cx="1020.0" cy="1798.0" r="9.0" fill="#9b9b9b"/>
<circle cx="1038.0" cy="1796.0" r="9.0" fill="#9b9b9b"/>
<circle cx="1050.0" cy="1790.0" r="9.0" fill="#9b9b9b"/>
<circle cx="1058.0" cy="1796.0" r="9.0" fill="#9b9b9b"/>
<circle cx="1070.0" cy="1790.0" r="9.0" fill="#9b9b9b"/>
<circle cx="1068.0" cy="1796.0" r="9.0" fill="#9b9b9b"/>
<circle cx="1086.0" cy="1800.0" r="9.0" fill="#9b9b9b"/>
<circle cx="1116.0" cy="1806.0" r="9.0" fill="#9b9b9b"/>
<circle cx="1001.0" cy="1809.0" r="9.0" fill="#9b9b9b"/>
<circle cx="975.0" cy="1815.6" r="9.0" fill="#9b9b9b"/>
<circle cx="1060.0" cy="1813.0" r="9.0" fill="#9b9b9b"/>
<circle cx="1006.0" cy="1820.0" r="9.0" fill="#9b9b9b"/>
<circle cx="1028.0" cy="1821.0" r="9.0" fill="#9b9b9b"/>
<circle cx="1042.0" cy="1822.0" r="9.0" fill="#9b9b9b"/>
<circle cx="1092.0" cy="1818.0" r="9.0" fill="#9b9b9b"/>
<circle cx="1096.0" cy="1826.0" r="9.0" fill="#9b9b9b"/>
<circle cx="1116.0" cy="1820.0" r="9.0" fill="#9b9b9b"/>
<circle cx="955.0" cy="1835.6" r="9.0" fill="#9b9b9b"/>
<circle cx="988.0" cy="1834.0" r="9.0" fill="#9b9b9b"/>
<circle cx="1000.0" cy="1830.0" r="9.0" fill="#9b9b9b"/>
<circle cx="1014.0" cy="1828.0" r="9.0" fill="#9b9b9b"/>
<circle cx="1022.0" cy="1834.0" r="9.0" fill="#9b9b9b"/>
<circle cx="1034.0" cy="1832.0" r="9.0" fill="#9b9b9b"/>
<circle cx="1050.0" cy="1832.0" r="9.0" fill="#9b9b9b"/>
<circle cx="1070.0" cy="1829.0" r="9.0" fill="#9b9b9b"/>
<circle cx="1080.0" cy="1832.0" r="9.0" fill="#9b9b9b"/>
<circle cx="1092.0" cy="1836.0" r="9.0" fill="#9b9b9b"/>
<circle cx="992.0" cy="1842.0" r="9.0" fill="#9b9b9b"/>
<circle cx="1024.0" cy="1844.0" r="9.0" fill="#9b9b9b"/>
<circle cx="1042.0" cy="1844.0" r="9.0" fill="#9b9b9b"/>
<circle cx="1072.0" cy="1844.0" r="9.0" fill="#9b9b9b"/>
<circle cx="1096.0" cy="1845.0" r="9.0" fill="#9b9b9b"/>
<circle cx="1008.0" cy="1855.0" r="9.0" fill="#9b9b9b"/>
<circle cx="1020.0" cy="1856.0" r="9.0" fill="#9b9b9b"/>
<circle cx="1036.0" cy="1856.0" r="9.0" fill="#9b9b9b"/>
<circle cx="1054.0" cy="1854.0" r="9.0" fill="#9b9b9b"/>
<circle cx="1072.0" cy="1860.0" r="9.0" fill="#9b9b9b"/>
<circle cx="1086.0" cy="1860.0" r="9.0" fill="#9b9b9b"/>
<circle cx="1096.0" cy="1860.0" r="9.0" fill="#9b9b9b"/>
<circle cx="1026.0" cy="1862.0" r="9.0" fill="#9b9b9b"/>
<circle cx="1046.0" cy="1862.0" r="9.0" fill="#9b9b9b"/>
<circle cx="1015.2" cy="1786.4" r="9.0" fill="#9b9b9b"/>
<circle cx="1022.7" cy="1796.5" r="9.0" fill="#9b9b9b"/>
<circle cx="1005.1" cy="1825.4" r="9.0" fill="#9b9b9b"/>
<circle cx="1032.8" cy="1832.9" r="9.0" fill="#9b9b9b"/>
<circle cx="1050.4" cy="1830.4" r="9.0" fill="#9b9b9b"/>
<circle cx="1057.9" cy="1820.3" r="9.0" fill="#9b9b9b"/>
<circle cx="1021.5" cy="1845.5" r="9.0" fill="#9b9b9b"/>
<circle cx="1040.3" cy="1848.0" r="9.0" fill="#9b9b9b"/>
<circle cx="1090.6" cy="1835.4" r="9.0" fill="#9b9b9b"/>
<circle cx="1073.0" cy="1801.5" r="9.0" fill="#9b9b9b"/>
<circle cx="969.8" cy="1148.4" r="9.0" fill="#9b9b9b"/>
<circle cx="969.8" cy="1189.6" r="9.0" fill="#9b9b9b"/>
<circle cx="964.0" cy="1344.9" r="9.0" fill="#9b9b9b"/>
<circle cx="969.8" cy="1422.4" r="9.0" fill="#9b9b9b"/>
<circle cx="1008.9" cy="1468.6" r="9.0" fill="#9b9b9b"/>
<circle cx="1177.4" cy="1594.6" r="9.0" fill="#1a1a1a"/>
<circle cx="1227.6" cy="1603.6" r="9.0" fill="#1a1a1a"/>
<circle cx="1221.0" cy="1662.6" r="9.0" fill="#1a1a1a"/>
<circle cx="1228.0" cy="1658.0" r="9.0" fill="#1a1a1a"/>
<circle cx="1124.4" cy="1686.4" r="9.0" fill="#1a1a1a"/>
<circle cx="1133.6" cy="1699.4" r="9.0" fill="#1a1a1a"/>
<circle cx="1236.0" cy="1709.0" r="9.0" fill="#1a1a1a"/>
<circle cx="1199.6" cy="1721.0" r="9.0" fill="#1a1a1a"/>
<circle cx="1227.6" cy="1725.0" r="9.0" fill="#1a1a1a"/>
<circle cx="1255.0" cy="1730.0" r="9.0" fill="#1a1a1a"/>
<circle cx="1273.0" cy="1727.0" r="9.0" fill="#1a1a1a"/>
<circle cx="1266.0" cy="1736.0" r="9.0" fill="#1a1a1a"/>
<circle cx="1241.0" cy="1739.0" r="9.0" fill="#1a1a1a"/>
<circle cx="1182.0" cy="1735.6" r="9.0" fill="#1a1a1a"/>
<circle cx="1216.0" cy="1744.0" r="9.0" fill="#1a1a1a"/>
<circle cx="1182.0" cy="1748.0" r="9.0" fill="#1a1a1a"/>
<circle cx="1184.0" cy="1757.0" r="9.0" fill="#1a1a1a"/>
<circle cx="1203.0" cy="1758.0" r="9.0" fill="#1a1a1a"/>
<circle cx="1252.0" cy="1748.0" r="9.0" fill="#1a1a1a"/>
<circle cx="1250.0" cy="1758.0" r="9.0" fill="#1a1a1a"/>
<circle cx="1116.0" cy="1752.4" r="9.0" fill="#1a1a1a"/>
<circle cx="1125.0" cy="1777.0" r="9.0" fill="#1a1a1a"/>
<circle cx="1134.0" cy="1782.0" r="9.0" fill="#1a1a1a"/>
<circle cx="1151.0" cy="1772.0" r="9.0" fill="#1a1a1a"/>
<circle cx="1157.0" cy="1778.0" r="9.0" fill="#1a1a1a"/>
<circle cx="1212.0" cy="1785.0" r="9.0" fill="#1a1a1a"/>
<circle cx="1266.0" cy="1774.0" r="9.0" fill="#1a1a1a"/>
<circle cx="1272.0" cy="1786.0" r="9.0" fill="#1a1a1a"/>
<circle cx="1274.0" cy="1794.0" r="9.0" fill="#1a1a1a"/>
<circle cx="1150.0" cy="1801.0" r="9.0" fill="#1a1a1a"/>
<circle cx="1156.0" cy="1808.0" r="9.0" fill="#1a1a1a"/>
<circle cx="1174.0" cy="1801.6" r="9.0" fill="#1a1a1a"/>
<circle cx="1204.0" cy="1802.0" r="9.0" fill="#1a1a1a"/>
<circle cx="1216.0" cy="1800.0" r="9.0" fill="#1a1a1a"/>
<circle cx="1204.0" cy="1810.0" r="9.0" fill="#1a1a1a"/>
<circle cx="1216.0" cy="1812.0" r="9.0" fill="#1a1a1a"/>
<circle cx="1122.0" cy="1815.0" r="9.0" fill="#1a1a1a"/>
<circle cx="1147.0" cy="1816.0" r="9.0" fill="#1a1a1a"/>
<circle cx="1150.0" cy="1824.0" r="9.0" fill="#1a1a1a"/>
<circle cx="1183.0" cy="1818.0" r="9.0" fill="#1a1a1a"/>
<circle cx="1175.0" cy="1830.0" r="9.0" fill="#1a1a1a"/>
<circle cx="1209.0" cy="1828.0" r="9.0" fill="#1a1a1a"/>
<circle cx="1238.0" cy="1826.0" r="9.0" fill="#1a1a1a"/>
<circle cx="1251.0" cy="1821.0" r="9.0" fill="#1a1a1a"/>
<circle cx="1266.0" cy="1819.0" r="9.0" fill="#1a1a1a"/>
<circle cx="1280.0" cy="1812.0" r="9.0" fill="#1a1a1a"/>
<circle cx="1122.0" cy="1834.0" r="9.0" fill="#1a1a1a"/>
<circle cx="1148.0" cy="1836.0" r="9.0" fill="#1a1a1a"/>
<circle cx="1176.0" cy="1840.0" r="9.0" fill="#1a1a1a"/>
<circle cx="1210.0" cy="1840.0" r="9.0" fill="#1a1a1a"/>
<circle cx="1218.0" cy="1840.0" r="9.0" fill="#1a1a1a"/>
<circle cx="1238.0" cy="1840.0" r="9.0" fill="#1a1a1a"/>
<circle cx="1266.0" cy="1840.0" r="9.0" fill="#1a1a1a"/>
<circle cx="1280.0" cy="1834.0" r="9.0" fill="#1a1a1a"/>
<circle cx="1116.0" cy="1848.0" r="9.0" fill="#1a1a1a"/>
<circle cx="1124.0" cy="1844.0" r="9.0" fill="#1a1a1a"/>
<circle cx="1148.0" cy="1848.0" r="9.0" fill="#1a1a1a"/>
<circle cx="1186.0" cy="1848.0" r="9.0" fill="#1a1a1a"/>
<circle cx="1190.0" cy="1852.0" r="9.0" fill="#1a1a1a"/>
<circle cx="1226.0" cy="1848.0" r="9.0" fill="#1a1a1a"/>
<circle cx="1240.0" cy="1848.0" r="9.0" fill="#1a1a1a"/>
<circle cx="1252.0" cy="1852.0" r="9.0" fill="#1a1a1a"/>
<circle cx="1280.0" cy="1848.0" r="9.0" fill="#1a1a1a"/>
<circle cx="1122.0" cy="1858.0" r="9.0" fill="#1a1a1a"/>
<circle cx="1148.0" cy="1860.0" r="9.0" fill="#1a1a1a"/>
<circle cx="1160.0" cy="1860.0" r="9.0" fill="#1a1a1a"/>
<circle cx="1176.0" cy="1862.0" r="9.0" fill="#1a1a1a"/>
<circle cx="1210.0" cy="1858.0" r="9.0" fill="#1a1a1a"/>
<circle cx="1230.0" cy="1860.0" r="9.0" fill="#1a1a1a"/>
<circle cx="1252.0" cy="1860.0" r="9.0" fill="#1a1a1a"/>
<circle cx="1270.0" cy="1862.0" r="9.0" fill="#1a1a1a"/>
<circle cx="1273.2" cy="1727.6" r="9.0" fill="#1a1a1a"/>
<circle cx="1266.0" cy="1734.8" r="9.0" fill="#1a1a1a"/>
<circle cx="1299.6" cy="1730.5" r="9.0" fill="#1a1a1a"/>
<circle cx="1299.6" cy="1746.8" r="9.0" fill="#1a1a1a"/>
<circle cx="1299.6" cy="1758.8" r="9.0" fill="#1a1a1a"/>
<circle cx="1266.0" cy="1773.2" r="9.0" fill="#1a1a1a"/>
<circle cx="1273.2" cy="1780.4" r="9.0" fill="#1a1a1a"/>
<circle cx="1273.2" cy="1793.6" r="9.0" fill="#1a1a1a"/>
<circle cx="1299.6" cy="1790.5" r="9.0" fill="#1a1a1a"/>
<circle cx="1299.6" cy="1800.8" r="9.0" fill="#1a1a1a"/>
<circle cx="1299.6" cy="1805.6" r="9.0" fill="#1a1a1a"/>
<circle cx="1281.6" cy="1810.4" r="9.0" fill="#1a1a1a"/>
<circle cx="1267.2" cy="1820.0" r="9.0" fill="#1a1a1a"/>
<circle cx="1282.8" cy="1829.6" r="9.0" fill="#1a1a1a"/>
<circle cx="1272.0" cy="1832.0" r="9.0" fill="#1a1a1a"/>
<circle cx="1267.2" cy="1841.6" r="9.0" fill="#1a1a1a"/>
<circle cx="1282.8" cy="1841.6" r="9.0" fill="#1a1a1a"/>
<circle cx="1282.8" cy="1853.6" r="9.0" fill="#1a1a1a"/>
<circle cx="1272.0" cy="1860.8" r="9.0" fill="#1a1a1a"/>
<circle cx="1260.0" cy="1858.4" r="9.0" fill="#1a1a1a"/>
<circle cx="1156.0" cy="1820.3" r="9.0" fill="#1a1a1a"/>
<circle cx="1158.5" cy="1830.4" r="9.0" fill="#1a1a1a"/>
<circle cx="1153.5" cy="1840.5" r="9.0" fill="#1a1a1a"/>
<circle cx="1158.5" cy="1850.5" r="9.0" fill="#1a1a1a"/>
<circle cx="1163.5" cy="1859.3" r="9.0" fill="#1a1a1a"/>
<circle cx="1176.1" cy="1830.4" r="9.0" fill="#1a1a1a"/>
<circle cx="1181.1" cy="1848.0" r="9.0" fill="#1a1a1a"/>
<circle cx="1193.7" cy="1856.8" r="9.0" fill="#1a1a1a"/>
<circle cx="1188.7" cy="1846.7" r="9.0" fill="#1a1a1a"/>
<circle cx="1122.1" cy="1848.0" r="9.0" fill="#1a1a1a"/>
<circle cx="1143.7" cy="1453.2" r="9.0" fill="#1a1a1a"/>
<circle cx="1224.9" cy="1492.3" r="9.0" fill="#1a1a1a"/>
<circle cx="1468.3" cy="1597.3" r="9.0" fill="#9b9b9b"/>
<circle cx="1392.5" cy="1648.6" r="9.0" fill="#9b9b9b"/>
<circle cx="1468.3" cy="1640.0" r="9.0" fill="#9b9b9b"/>
<circle cx="1486.8" cy="1641.2" r="9.0" fill="#9b9b9b"/>
<circle cx="1467.6" cy="1656.8" r="9.0" fill="#9b9b9b"/>
<circle cx="1468.3" cy="1666.4" r="9.0" fill="#9b9b9b"/>
<circle cx="1468.3" cy="1673.6" r="9.0" fill="#9b9b9b"/>
<circle cx="1444.3" cy="1666.9" r="9.0" fill="#9b9b9b"/>
<circle cx="1348.3" cy="1684.4" r="9.0" fill="#9b9b9b"/>
<circle cx="1343.5" cy="1690.9" r="9.0" fill="#9b9b9b"/>
<circle cx="1392.5" cy="1698.1" r="9.0" fill="#9b9b9b"/>
<circle cx="1387.2" cy="1706.7" r="9.0" fill="#9b9b9b"/>
<circle cx="1351.7" cy="1713.9" r="9.0" fill="#9b9b9b"/>
<circle cx="1405.9" cy="1720.4" r="9.0" fill="#9b9b9b"/>
<circle cx="1315.7" cy="1724.0" r="9.0" fill="#9b9b9b"/>
<circle cx="1315.7" cy="1737.2" r="9.0" fill="#9b9b9b"/>
<circle cx="1315.7" cy="1751.6" r="9.0" fill="#9b9b9b"/>
<circle cx="1315.7" cy="1760.0" r="9.0" fill="#9b9b9b"/>
<circle cx="1358.9" cy="1738.4" r="9.0" fill="#9b9b9b"/>
<circle cx="1356.5" cy="1749.2" r="9.0" fill="#9b9b9b"/>
<circle cx="1387.2" cy="1750.9" r="9.0" fill="#9b9b9b"/>
<circle cx="1392.5" cy="1746.8" r="9.0" fill="#9b9b9b"/>
<circle cx="1404.7" cy="1752.3" r="9.0" fill="#9b9b9b"/>
<circle cx="1433.3" cy="1740.3" r="9.0" fill="#9b9b9b"/>
<circle cx="1468.3" cy="1733.1" r="9.0" fill="#9b9b9b"/>
<circle cx="1486.3" cy="1736.7" r="9.0" fill="#9b9b9b"/>
<circle cx="1350.7" cy="1763.6" r="9.0" fill="#9b9b9b"/>
<circle cx="1356.0" cy="1774.4" r="9.0" fill="#9b9b9b"/>
<circle cx="1363.2" cy="1775.6" r="9.0" fill="#9b9b9b"/>
<circle cx="1336.8" cy="1779.2" r="9.0" fill="#9b9b9b"/>
<circle cx="1356.0" cy="1786.4" r="9.0" fill="#9b9b9b"/>
<circle cx="1380.0" cy="1778.0" r="9.0" fill="#9b9b9b"/>
<circle cx="1390.8" cy="1774.4" r="9.0" fill="#9b9b9b"/>
<circle cx="1393.2" cy="1786.4" r="9.0" fill="#9b9b9b"/>
<circle cx="1410.0" cy="1786.4" r="9.0" fill="#9b9b9b"/>
<circle cx="1390.8" cy="1796.0" r="9.0" fill="#9b9b9b"/>
<circle cx="1439.5" cy="1761.2" r="9.0" fill="#9b9b9b"/>
<circle cx="1439.5" cy="1775.6" r="9.0" fill="#9b9b9b"/>
<circle cx="1458.0" cy="1769.6" r="9.0" fill="#9b9b9b"/>
<circle cx="1460.4" cy="1776.8" r="9.0" fill="#9b9b9b"/>
<circle cx="1468.3" cy="1786.4" r="9.0" fill="#9b9b9b"/>
<circle cx="1320.0" cy="1804.4" r="9.0" fill="#9b9b9b"/>
<circle cx="1326.0" cy="1804.4" r="9.0" fill="#9b9b9b"/>
<circle cx="1320.0" cy="1811.6" r="9.0" fill="#9b9b9b"/>
<circle cx="1360.3" cy="1803.2" r="9.0" fill="#9b9b9b"/>
<circle cx="1357.2" cy="1817.6" r="9.0" fill="#9b9b9b"/>
<circle cx="1357.2" cy="1822.4" r="9.0" fill="#9b9b9b"/>
<circle cx="1380.0" cy="1816.4" r="9.0" fill="#9b9b9b"/>
<circle cx="1390.8" cy="1817.6" r="9.0" fill="#9b9b9b"/>
<circle cx="1404.0" cy="1817.6" r="9.0" fill="#9b9b9b"/>
<circle cx="1410.0" cy="1806.8" r="9.0" fill="#9b9b9b"/>
<circle cx="1401.6" cy="1800.8" r="9.0" fill="#9b9b9b"/>
<circle cx="1432.3" cy="1796.0" r="9.0" fill="#9b9b9b"/>
<circle cx="1433.3" cy="1810.4" r="9.0" fill="#9b9b9b"/>
<circle cx="1486.8" cy="1805.6" r="9.0" fill="#9b9b9b"/>
<circle cx="1468.3" cy="1823.6" r="9.0" fill="#9b9b9b"/>
<circle cx="1404.0" cy="1829.6" r="9.0" fill="#9b9b9b"/>
<circle cx="1410.0" cy="1836.8" r="9.0" fill="#9b9b9b"/>
<circle cx="1324.8" cy="1832.0" r="9.0" fill="#9b9b9b"/>
<circle cx="1336.8" cy="1832.0" r="9.0" fill="#9b9b9b"/>
<circle cx="1348.8" cy="1838.0" r="9.0" fill="#9b9b9b"/>
<circle cx="1317.6" cy="1836.8" r="9.0" fill="#9b9b9b"/>
<circle cx="1299.6" cy="1845.2" r="9.0" fill="#9b9b9b"/>
<circle cx="1317.6" cy="1848.8" r="9.0" fill="#9b9b9b"/>
<circle cx="1329.6" cy="1846.4" r="9.0" fill="#9b9b9b"/>
<circle cx="1336.8" cy="1848.8" r="9.0" fill="#9b9b9b"/>
<circle cx="1380.0" cy="1846.4" r="9.0" fill="#9b9b9b"/>
<circle cx="1396.8" cy="1848.8" r="9.0" fill="#9b9b9b"/>
<circle cx="1408.8" cy="1854.8" r="9.0" fill="#9b9b9b"/>
<circle cx="1432.3" cy="1844.5" r="9.0" fill="#9b9b9b"/>
<circle cx="1463.5" cy="1841.6" r="9.0" fill="#9b9b9b"/>
<circle cx="1468.3" cy="1852.4" r="9.0" fill="#9b9b9b"/>
<circle cx="1489.2" cy="1840.4" r="9.0" fill="#9b9b9b"/>
<circle cx="1299.6" cy="1858.4" r="9.0" fill="#9b9b9b"/>
<circle cx="1317.6" cy="1860.8" r="9.0" fill="#9b9b9b"/>
<circle cx="1332.0" cy="1860.8" r="9.0" fill="#9b9b9b"/>
<circle cx="1348.8" cy="1862.0" r="9.0" fill="#9b9b9b"/>
<circle cx="1375.2" cy="1856.0" r="9.0" fill="#9b9b9b"/>
<circle cx="1404.0" cy="1860.8" r="9.0" fill="#9b9b9b"/>
<circle cx="1413.6" cy="1856.0" r="9.0" fill="#9b9b9b"/>
<circle cx="1468.3" cy="1860.8" r="9.0" fill="#9b9b9b"/>
<circle cx="1406.4" cy="1785.6" r="9.0" fill="#9b9b9b"/>
<circle cx="1412.8" cy="1787.2" r="9.0" fill="#9b9b9b"/>
<circle cx="1404.8" cy="1824.0" r="9.0" fill="#9b9b9b"/>
<circle cx="1409.6" cy="1836.8" r="9.0" fill="#9b9b9b"/>
<circle cx="1406.4" cy="1849.6" r="9.0" fill="#9b9b9b"/>
<circle cx="1412.8" cy="1856.0" r="9.0" fill="#9b9b9b"/>
<circle cx="1403.2" cy="1808.0" r="9.0" fill="#9b9b9b"/>
<circle cx="1467.4" cy="1648.0" r="9.0" fill="#9b9b9b"/>
<circle cx="1568.4" cy="1616.7" r="9.0" fill="#1a1a1a"/>
<circle cx="1512.0" cy="1678.9" r="9.0" fill="#1a1a1a"/>
<circle cx="1520.4" cy="1676.5" r="9.0" fill="#1a1a1a"/>
<circle cx="1558.1" cy="1683.2" r="9.0" fill="#1a1a1a"/>
<circle cx="1519.9" cy="1734.3" r="9.0" fill="#1a1a1a"/>
<circle cx="1512.5" cy="1745.6" r="9.0" fill="#1a1a1a"/>
<circle cx="1517.5" cy="1759.5" r="9.0" fill="#1a1a1a"/>
<circle cx="1549.2" cy="1731.7" r="9.0" fill="#1a1a1a"/>
<circle cx="1558.3" cy="1741.3" r="9.0" fill="#1a1a1a"/>
<circle cx="1558.3" cy="1762.4" r="9.0" fill="#1a1a1a"/>
<circle cx="1553.3" cy="1769.6" r="9.0" fill="#1a1a1a"/>
<circle cx="1558.3" cy="1775.6" r="9.0" fill="#1a1a1a"/>
<circle cx="1513.2" cy="1778.0" r="9.0" fill="#1a1a1a"/>
<circle cx="1502.9" cy="1790.5" r="9.0" fill="#1a1a1a"/>
<circle cx="1540.8" cy="1787.6" r="9.0" fill="#1a1a1a"/>
<circle cx="1538.9" cy="1800.1" r="9.0" fill="#1a1a1a"/>
<circle cx="1504.8" cy="1800.8" r="9.0" fill="#1a1a1a"/>
<circle cx="1512.0" cy="1809.2" r="9.0" fill="#1a1a1a"/>
<circle cx="1489.2" cy="1818.8" r="9.0" fill="#1a1a1a"/>
<circle cx="1489.2" cy="1827.2" r="9.0" fill="#1a1a1a"/>
<circle cx="1504.8" cy="1817.6" r="9.0" fill="#1a1a1a"/>
<circle cx="1513.2" cy="1824.8" r="9.0" fill="#1a1a1a"/>
<circle cx="1504.8" cy="1829.6" r="9.0" fill="#1a1a1a"/>
<circle cx="1539.6" cy="1818.8" r="9.0" fill="#1a1a1a"/>
<circle cx="1539.6" cy="1826.0" r="9.0" fill="#1a1a1a"/>
<circle cx="1558.3" cy="1815.2" r="9.0" fill="#1a1a1a"/>
<circle cx="1558.3" cy="1822.9" r="9.0" fill="#1a1a1a"/>
<circle cx="1489.2" cy="1851.2" r="9.0" fill="#1a1a1a"/>
<circle cx="1489.2" cy="1858.4" r="9.0" fill="#1a1a1a"/>
<circle cx="1512.0" cy="1862.0" r="9.0" fill="#1a1a1a"/>
<circle cx="1518.0" cy="1860.8" r="9.0" fill="#1a1a1a"/>
<circle cx="1539.6" cy="1860.8" r="9.0" fill="#1a1a1a"/>
<circle cx="1554.0" cy="1842.8" r="9.0" fill="#1a1a1a"/>
<circle cx="1568.4" cy="1836.8" r="9.0" fill="#1a1a1a"/>
<circle cx="1568.4" cy="1845.2" r="9.0" fill="#1a1a1a"/>
<circle cx="1552.8" cy="1853.6" r="9.0" fill="#1a1a1a"/>
<circle cx="1552.8" cy="1860.8" r="9.0" fill="#1a1a1a"/>
<circle cx="1615.7" cy="1710.8" r="9.0" fill="#9b9b9b"/>
<circle cx="1605.6" cy="1734.1" r="9.0" fill="#9b9b9b"/>
<circle cx="1570.8" cy="1774.9" r="9.0" fill="#9b9b9b"/>
<circle cx="1621.7" cy="1761.9" r="9.0" fill="#9b9b9b"/>
<circle cx="1608.0" cy="1776.8" r="9.0" fill="#9b9b9b"/>
<circle cx="1611.6" cy="1786.4" r="9.0" fill="#9b9b9b"/>
<circle cx="1594.8" cy="1791.2" r="9.0" fill="#9b9b9b"/>
<circle cx="1608.0" cy="1791.2" r="9.0" fill="#9b9b9b"/>
<circle cx="1645.2" cy="1780.9" r="9.0" fill="#9b9b9b"/>
<circle cx="1645.2" cy="1805.6" r="9.0" fill="#9b9b9b"/>
<circle cx="1594.8" cy="1839.2" r="9.0" fill="#9b9b9b"/>
<circle cx="1627.2" cy="1837.5" r="9.0" fill="#9b9b9b"/>
<circle cx="1594.8" cy="1854.8" r="9.0" fill="#9b9b9b"/>
<circle cx="1568.4" cy="1853.6" r="9.0" fill="#9b9b9b"/>
</g>
<line x1="218.6" x2="1662" y1="1516.6" y2="1516.6" stroke="#fa1a1a" stroke-width="2.8" stroke-linecap="round"/>
<path d="M189.1 1168.6H218.6V1864.2H189.1M189.1 1342.5H218.6M189.1 1516.4H218.6M189.1 1690.3H218.6" fill="none" stroke="#000" stroke-width="2.9" stroke-linecap="round" stroke-linejoin="round"/>
<path d="M398.5 1893.6V1864.6H1607.8V1893.6M636.2 1864.6V1893.6M832.3 1864.6V1893.6M1022.7 1864.6V1893.6M1211.0 1864.6V1893.6M1383.8 1864.6V1893.6M1538.8 1864.6V1893.6" fill="none" stroke="#000" stroke-width="2.9" stroke-linecap="round" stroke-linejoin="round"/>
<text class="ar" x="157.6" y="1881.8" font-size="50" text-anchor="end">0</text>
<text class="ar" x="157.6" y="1707.9" font-size="50" text-anchor="end">1</text>
<text class="ar" x="157.6" y="1534.0" font-size="50" text-anchor="end">2</text>
<text class="ar" x="157.6" y="1360.1" font-size="50" text-anchor="end">3</text>
<text class="ar" x="157.6" y="1186.2" font-size="50" text-anchor="end">4</text>
<text class="ar" x="398.5" y="1969.3" font-size="50" text-anchor="middle">1</text>
<text class="ar" x="636.2" y="1969.3" font-size="50" text-anchor="middle">2</text>
<text class="ar" x="832.3" y="1969.3" font-size="50" text-anchor="middle">3</text>
<text class="ar" x="1022.7" y="1969.3" font-size="50" text-anchor="middle">4</text>
<text class="ar" x="1211.0" y="1969.3" font-size="50" text-anchor="middle">5</text>
<text class="ar" x="1383.8" y="1969.3" font-size="50" text-anchor="middle">6</text>
<text class="ar" x="1538.8" y="1969.3" font-size="50" text-anchor="middle">7</text>
<text class="ar" x="951.8" y="2026.8" font-size="50" text-anchor="middle">Chromosome</text>
<g transform="translate(91,1588) rotate(-90)">
<text class="ar" transform="translate(15.45,0) scale(1.25,1)" font-size="50" text-anchor="middle">−</text>
<text class="ar" font-size="50" text-anchor="middle"><tspan x="48.20 66.15 95.95" y="0 0 -0.6">log</tspan><tspan x="119.50 141.35" y="6.7" font-size="34">10</tspan><tspan x="163.30" y="-3.4" font-size="58">(</tspan><tspan x="193.80" y="-0.5" font-style="italic">p</tspan><tspan x="223.00" y="-3.4" font-size="58">)</tspan></text>
</g>
<text class="dv" transform="translate(983.0,1144.3) scale(0.957,1)" font-size="21.4">AFUA_4G04130</text>
<text class="dv" transform="translate(983.0,1184.7) scale(0.957,1)" font-size="21.4">AFUA_4G04130</text>
<text class="dv" transform="translate(695.7,1287.6) scale(0.957,1)" font-size="21.4">AFUA_2G12400</text>
<text class="dv" transform="translate(976.8000000000001,1337.7) scale(0.957,1)" font-size="21.4">AFUA_4G03760</text>
<text class="dv" transform="translate(982.0,1412.4) scale(0.957,1)" font-size="21.4">AFUA_4G04140</text>
<text class="dv" transform="translate(1153.3999999999999,1441.9) scale(0.957,1)" font-size="21.4">AFUA_5G03410</text>
<text class="dv" transform="translate(1016.2,1492.6) scale(0.957,1)" font-size="21.4">AFUA_4G07290</text>
<text class="dv" transform="translate(1236.1,1484.6) scale(0.957,1)" font-size="21.4">AFUA_5G09500</text>
</g>
</svg></body></html>
